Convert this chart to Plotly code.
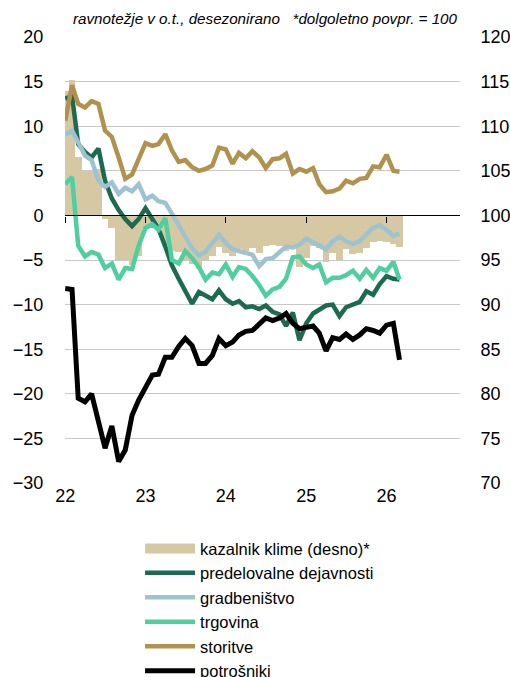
import pandas as pd
import plotly.graph_objects as go

months = pd.date_range("2022-01-01", periods=51, freq="MS")

kazalnik = [114.0, 115.2, 106.6, 105.0, 105.0, 105.2, 99.6, 98.6, 95.0, 95.0, 94.4, 95.5,
            98.5, 98.7, 98.7, 96.8, 96.0, 95.9, 95.0, 94.6, 94.0, 95.0, 95.5, 96.5,
            95.8, 95.5, 96.2, 96.0, 96.3, 95.8, 96.6, 96.7, 96.6, 96.0, 96.3, 94.2,
            95.2, 96.6, 96.4, 94.8, 95.8, 95.0, 96.2, 95.7, 95.8, 96.4, 97.0, 97.1,
            97.0, 96.8, 96.5]
predelovalne = [13.1, 13.4, 8.0, 7.1, 6.5, 7.5, 3.9, 1.9, 0.6, -0.4, -1.2, -0.4,
                0.8, -0.5, -1.5, -3.5, -5.6, -7.1, -8.6, -9.9, -8.6, -9.0, -9.4, -8.4,
                -9.4, -9.9, -9.6, -10.3, -10.2, -10.5, -10.1, -10.8, -11.1, -12.4, -10.9, -14.0,
                -12.1, -11.0, -10.6, -10.1, -10.0, -11.3, -10.3, -10.0, -9.7, -8.5, -8.9, -7.7,
                -6.8, -7.1, -7.2]
gradbenistvo = [9.0, 9.5, 8.2, 6.7, 6.2, 3.9, 3.2, 3.7, 2.4, 3.1, 2.7, 3.5,
                1.8, 2.2, 1.6, 1.4, 0.2, -1.1, -2.4, -3.7, -4.5, -4.1, -3.1, -2.2,
                -3.1, -3.8, -4.0, -4.2, -4.4, -5.7, -4.9, -4.8, -4.1, -3.5, -3.6, -3.3,
                -2.6, -3.0, -3.4, -3.8, -2.9, -2.4, -2.9, -3.2, -2.9, -2.2, -1.4, -1.1,
                -1.6, -2.3, -2.0]
trgovina = [3.5, 4.3, -3.4, -4.6, -4.1, -4.4, -5.9, -5.4, -7.2, -5.9, -6.0, -3.4,
            -1.4, -1.0, -1.6, -0.3, -5.0, -5.4, -4.0, -4.8, -5.8, -7.2, -6.4, -6.6,
            -5.5, -6.9, -5.8, -6.0, -6.8, -7.8, -9.0, -8.3, -8.0, -7.1, -4.7, -4.6,
            -5.5, -5.9, -5.5, -7.5, -7.0, -7.0, -6.7, -6.2, -7.1, -6.1, -7.0, -5.9,
            -6.2, -5.2, -7.2]
storitve = [10.6, 14.6, 12.5, 12.1, 12.8, 12.5, 9.5, 8.8, 6.5, 4.1, 4.6, 6.3,
            8.1, 7.8, 8.0, 9.1, 7.3, 6.0, 6.2, 5.4, 5.0, 5.2, 5.6, 7.6,
            7.4, 5.8, 7.0, 6.4, 7.2, 6.5, 5.3, 6.3, 6.4, 6.9, 4.7, 5.2,
            4.9, 5.3, 3.5, 2.6, 2.7, 3.0, 3.9, 3.6, 4.1, 4.2, 5.5, 5.4,
            6.8, 5.0, 4.9]
potrosniki = [-8.2, -8.3, -20.5, -20.9, -20.0, -22.9, -26.1, -23.6, -27.6, -26.3, -22.4, -20.7,
              -19.4, -17.9, -17.8, -15.9, -15.9, -14.7, -13.8, -14.6, -16.6, -16.6, -15.7, -13.8,
              -14.6, -14.2, -13.4, -13.0, -12.9, -12.1, -11.5, -11.8, -11.5, -11.0, -12.1, -12.7,
              -12.5, -12.4, -13.2, -15.2, -13.7, -13.9, -13.3, -13.9, -13.4, -12.7, -12.9, -13.2,
              -12.3, -12.1, -16.2]

year_ticks = pd.to_datetime(["2022-01-01", "2023-01-01", "2024-01-01", "2025-01-01", "2026-01-01"])
year_labels = ["22", "23", "24", "25", "26"]
left_ticks = [-30, -25, -20, -15, -10, -5, 0, 5, 10, 15, 20]
right_ticks = [70, 75, 80, 85, 90, 95, 100, 105, 110, 115, 120]

subtitle = "ravnotežje v o.t., desezonirano   *dolgoletno povpr. = 100"

FONT = "Liberation Sans, Arial, sans-serif"
BEIGE = "#d7c8a4"
xrange_ = ["2021-12-31", "2026-12-01"]
MONTH_MS = 31 * 24 * 3600 * 1000
CLEAR = "rgba(0,0,0,0)"

fig = go.Figure()
fig.add_trace(go.Bar(x=months, y=[v - 100 for v in kazalnik], base=100, width=MONTH_MS,
                     name="kazalnik klime (desno)*", showlegend=False,
                     marker=dict(color=BEIGE, line=dict(width=0)),
                     yaxis="y", xaxis="x"))
# legend entry for the bars (wide beige swatch)
fig.add_trace(go.Scatter(x=[months[0]], y=[None], name="kazalnik klime (desno)*", mode="lines",
                         line=dict(color=BEIGE, width=10), yaxis="y2", xaxis="x",
                         hoverinfo="skip"))
series = [
    ("predelovalne dejavnosti", predelovalne, "#1c6b50"),
    ("gradbeništvo", gradbenistvo, "#9cc3d0"),
    ("trgovina", trgovina, "#4fcf9f"),
    ("storitve", storitve, "#b0914e"),
    ("potrošniki", potrosniki, "#000000"),
]
for name, vals, col in series:
    fig.add_trace(go.Scatter(x=months, y=vals, name=name, mode="lines",
                             line=dict(color=col, width=4.5 if col != "#000000" else 5),
                             yaxis="y2", xaxis="x"))
fig.add_trace(go.Scatter(x=[months[0]], y=[None], xaxis="x2", yaxis="y",
                         showlegend=False, hoverinfo="skip", mode="lines"))

fig.update_layout(
    width=510, height=677,
    margin=dict(l=65, r=50, t=37, b=194, autoexpand=False),
    paper_bgcolor="white", plot_bgcolor="white",
    font=dict(family=FONT, size=18, color="#000000"),
    bargap=0,
    showlegend=True,
    legend=dict(x=0.19, xanchor="left", y=-0.108, yanchor="top",
                font=dict(size=16.5), bgcolor="rgba(0,0,0,0)",
                tracegroupgap=0, itemwidth=50),
    xaxis=dict(range=xrange_, type="date", tickvals=year_ticks, ticktext=year_labels,
               showgrid=False, showline=False, ticks="", zeroline=False,
               tickfont=dict(size=18)),
    xaxis2=dict(range=xrange_, type="date", overlaying="x", anchor="free", position=0.6,
                tickvals=year_ticks, showticklabels=False, ticks="outside", ticklen=6,
                tickcolor="#000000", tickwidth=1, showline=True, linecolor="#000000",
                linewidth=1.2, showgrid=False, zeroline=False),
    yaxis=dict(range=[70, 120], side="right", tickvals=right_ticks,
               showgrid=True, gridcolor="#c8c8c8", gridwidth=1, zeroline=False,
               showline=False, ticks="outside", ticklen=16, tickcolor=CLEAR,
               tickfont=dict(size=18)),
    yaxis2=dict(range=[-30, 20], overlaying="y", side="left", tickvals=left_ticks,
                showgrid=False, zeroline=False, showline=False,
                ticks="outside", ticklen=17, tickcolor=CLEAR,
                tickfont=dict(size=18)),
    annotations=[dict(text=subtitle, xref="paper", yref="paper", x=1.0, y=1.0,
                      xanchor="right", yanchor="bottom", yshift=8, showarrow=False,
                      font=dict(size=15.2, family=FONT, style="italic"))],
)

fig.write_html("out.html", config={"displayModeBar": False},
               post_script="document.body.style.margin='0';")
